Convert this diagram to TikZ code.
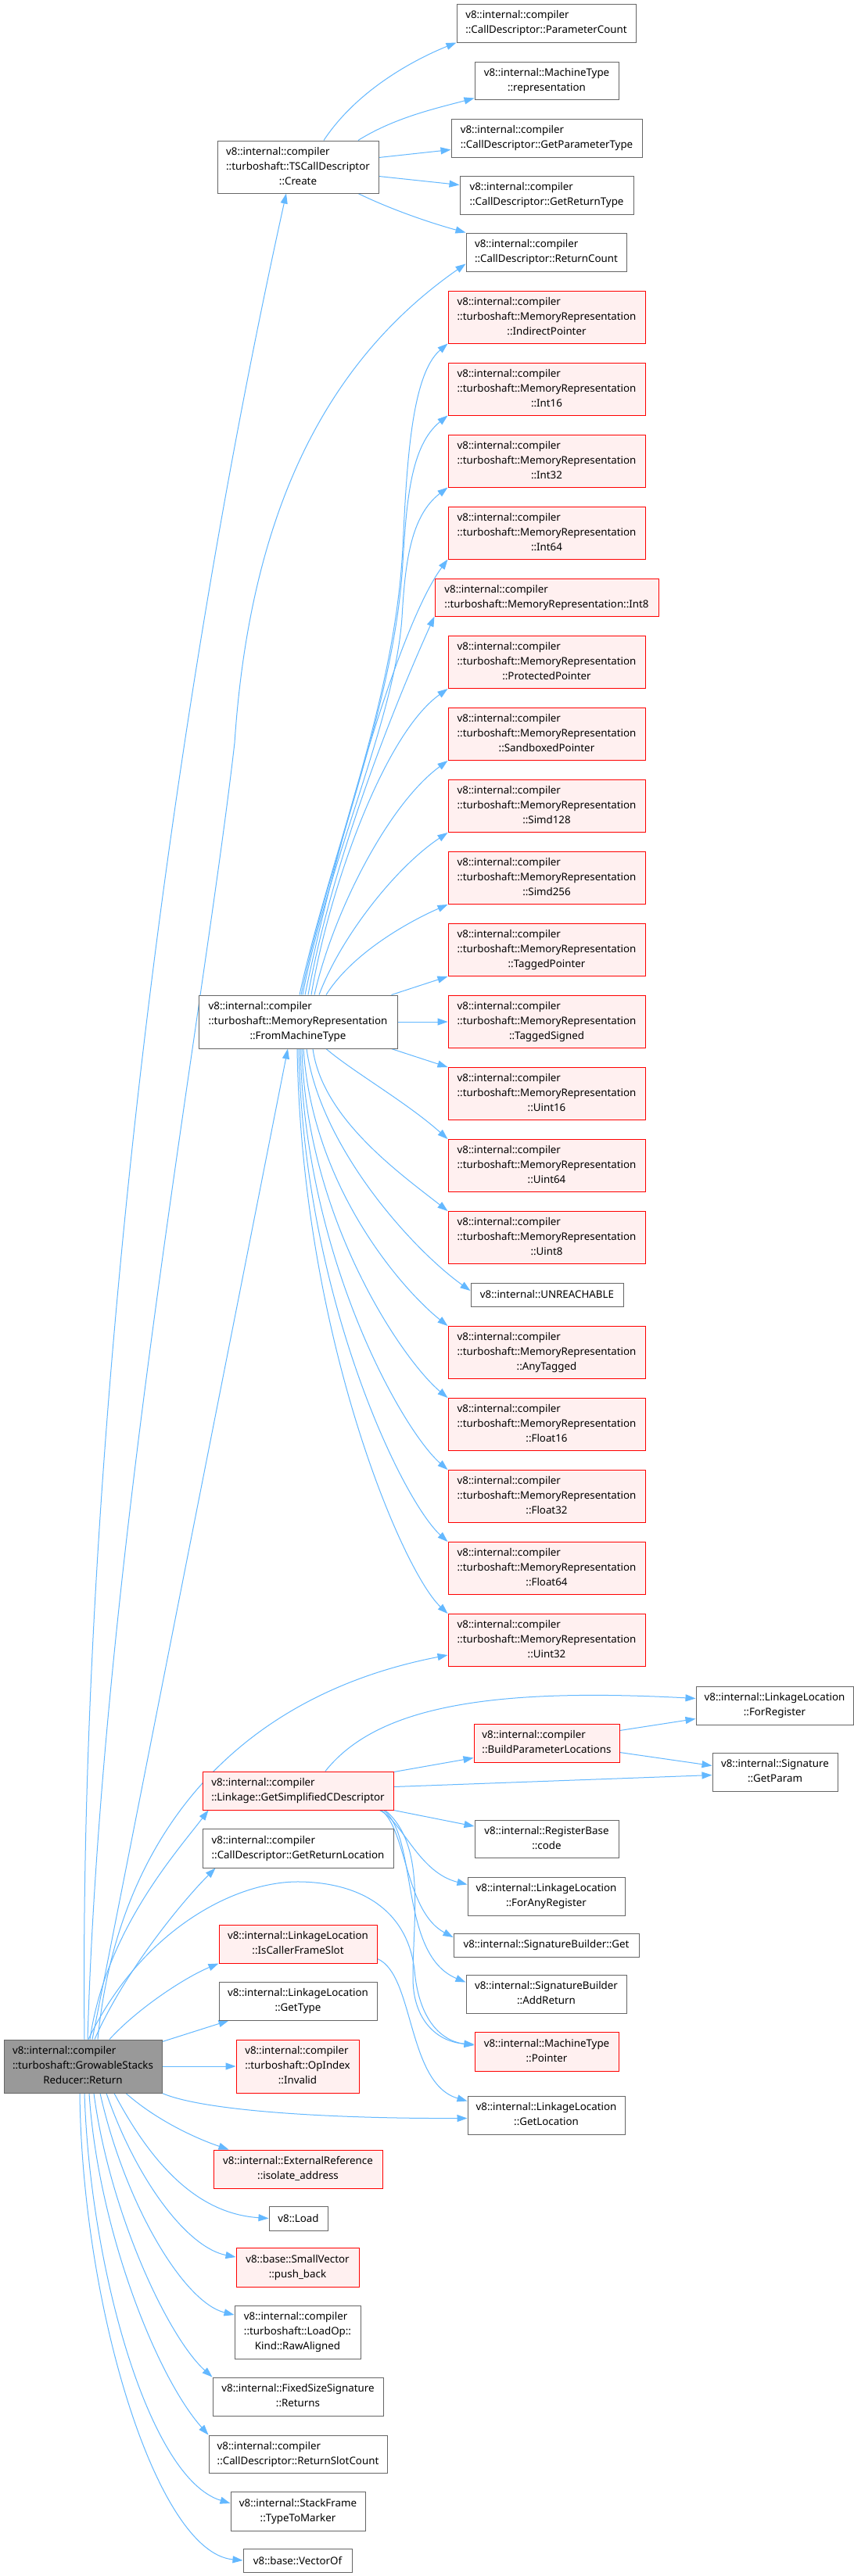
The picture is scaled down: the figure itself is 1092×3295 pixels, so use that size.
\documentclass[tikz,border=0pt]{standalone}
\usepackage{fontspec}
\setmainfont{Noto Sans}
\usetikzlibrary{arrows.meta,calc}
\definecolor{nodegray}{HTML}{666666}
\definecolor{redfill}{HTML}{FFF0F0}
\definecolor{rootgray}{HTML}{999999}
\definecolor{edgeblue}{HTML}{63B8FF}
\newcommand{\twol}[2]{\begin{tabular}{@{}l@{}}#1\\\multicolumn{1}{@{}c@{}}{#2}\end{tabular}}
\newcommand{\threel}[3]{\begin{tabular}{@{}l@{}}#1\\#2\\\multicolumn{1}{@{}c@{}}{#3}\end{tabular}}
\pgfdeclarelayer{bg}
\pgfdeclarelayer{paper}
\pgfsetlayers{paper,bg,main}
\begin{document}
\begin{tikzpicture}[x=1pt,y=-1pt,
 nd/.style={draw=nodegray, fill=white, line width=1pt, inner sep=0pt, font=\fontsize{13.33pt}{19pt}\selectfont, text=black},
 rd/.style={nd, draw=red, fill=redfill},
 rt/.style={nd, fill=rootgray},
 wh/.style 2 args={minimum width=#1pt, minimum height=#2pt},
 edge/.style={draw=edgeblue, line width=1pt, -{Triangle[length=13pt,width=9pt]}},
]
\begin{pgfonlayer}{paper}
\fill[white] (0,0) rectangle (1092,3295);
\end{pgfonlayer}
\useasboundingbox (0,0) rectangle (1092,3295);

% right column top
\node[nd,wh={229}{49}] (PC) at (698.5,29.5) {\twol{v8::internal::compiler}{::CallDescriptor::ParameterCount}};
\node[nd,wh={184}{48}] (Rep) at (699,103) {\twol{v8::internal::MachineType}{::representation}};
\node[nd,wh={244}{49}] (GPT) at (699,176.5) {\twol{v8::internal::compiler}{::CallDescriptor::GetParameterType}};
\node[nd,wh={222}{49}] (GRT) at (699,249.5) {\twol{v8::internal::compiler}{::CallDescriptor::GetReturnType}};
\node[nd,wh={205}{49}] (RC) at (698.5,322.5) {\twol{v8::internal::compiler}{::CallDescriptor::ReturnCount}};
\node[nd,wh={206}{67}] (Create) at (381,213.5) {\threel{v8::internal::compiler}{::turboshaft::TSCallDescriptor}{::Create}};

% memory representations
\node[rd,wh={252}{67}] (mIP) at (699,405.5) {\threel{v8::internal::compiler}{::turboshaft::MemoryRepresentation}{::IndirectPointer}};
\node[rd,wh={252}{67}] (mI16) at (699,497.5) {\threel{v8::internal::compiler}{::turboshaft::MemoryRepresentation}{::Int16}};
\node[rd,wh={252}{67}] (mI32) at (699,589.5) {\threel{v8::internal::compiler}{::turboshaft::MemoryRepresentation}{::Int32}};
\node[rd,wh={252}{67}] (mI64) at (699,681.5) {\threel{v8::internal::compiler}{::turboshaft::MemoryRepresentation}{::Int64}};
\node[rd,wh={286}{48}] (mI8) at (699,764) {\twol{v8::internal::compiler}{::turboshaft::MemoryRepresentation::Int8}};
\node[rd,wh={252}{67}] (mPP) at (699,847) {\threel{v8::internal::compiler}{::turboshaft::MemoryRepresentation}{::ProtectedPointer}};
\node[rd,wh={252}{67}] (mSP) at (699,939) {\threel{v8::internal::compiler}{::turboshaft::MemoryRepresentation}{::SandboxedPointer}};
\node[rd,wh={252}{67}] (mS128) at (699,1031) {\threel{v8::internal::compiler}{::turboshaft::MemoryRepresentation}{::Simd128}};
\node[rd,wh={252}{67}] (mS256) at (699,1123) {\threel{v8::internal::compiler}{::turboshaft::MemoryRepresentation}{::Simd256}};
\node[rd,wh={252}{67}] (mTP) at (699,1215) {\threel{v8::internal::compiler}{::turboshaft::MemoryRepresentation}{::TaggedPointer}};
\node[rd,wh={252}{67}] (mTS) at (699,1307) {\threel{v8::internal::compiler}{::turboshaft::MemoryRepresentation}{::TaggedSigned}};
\node[rd,wh={252}{67}] (mU16) at (699,1399) {\threel{v8::internal::compiler}{::turboshaft::MemoryRepresentation}{::Uint16}};
\node[rd,wh={252}{67}] (mU64) at (699,1491) {\threel{v8::internal::compiler}{::turboshaft::MemoryRepresentation}{::Uint64}};
\node[rd,wh={252}{67}] (mU8) at (699,1583) {\threel{v8::internal::compiler}{::turboshaft::MemoryRepresentation}{::Uint8}};
\node[nd,wh={195}{30}] (UNR) at (699.5,1656) {v8::internal::UNREACHABLE};
\node[rd,wh={252}{67}] (mAT) at (699,1730) {\threel{v8::internal::compiler}{::turboshaft::MemoryRepresentation}{::AnyTagged}};
\node[rd,wh={252}{67}] (mF16) at (699,1822) {\threel{v8::internal::compiler}{::turboshaft::MemoryRepresentation}{::Float16}};
\node[rd,wh={252}{67}] (mF32) at (699,1914) {\threel{v8::internal::compiler}{::turboshaft::MemoryRepresentation}{::Float32}};
\node[rd,wh={252}{67}] (mF64) at (699,2006) {\threel{v8::internal::compiler}{::turboshaft::MemoryRepresentation}{::Float64}};
\node[rd,wh={252}{67}] (mU32) at (699,2098) {\threel{v8::internal::compiler}{::turboshaft::MemoryRepresentation}{::Uint32}};
\node[nd,wh={254}{68}] (FMT) at (381,1307) {\threel{v8::internal::compiler}{::turboshaft::MemoryRepresentation}{::FromMachineType}};

% lower part
\node[nd,wh={201}{49}] (FR) at (990.5,2181.5) {\twol{v8::internal::LinkageLocation}{::ForRegister}};
\node[rd,wh={186}{49}] (BPL) at (699,2229.5) {\twol{v8::internal::compiler}{::BuildParameterLocations}};
\node[nd,wh={160}{49}] (GP) at (991,2266.5) {\twol{v8::internal::Signature}{::GetParam}};
\node[rd,wh={244}{49}] (GSC) at (381,2290.5) {\twol{v8::internal::compiler}{::Linkage::GetSimplifiedCDescriptor}};
\node[nd,wh={184}{48}] (RB) at (699,2352) {\twol{v8::internal::RegisterBase}{::code}};
\node[nd,wh={244}{50}] (GRL) at (381,2364) {\twol{v8::internal::compiler}{::CallDescriptor::GetReturnLocation}};
\node[nd,wh={201}{49}] (FAR) at (698.5,2425.5) {\twol{v8::internal::LinkageLocation}{::ForAnyRegister}};
\node[rd,wh={202}{49}] (ICFS) at (381,2486.5) {\twol{v8::internal::LinkageLocation}{::IsCallerFrameSlot}};
\node[nd,wh={237}{30}] (SBG) at (698.5,2488) {v8::internal::SignatureBuilder::Get};
\node[nd,wh={205}{49}] (AR) at (698.5,2550.5) {\twol{v8::internal::SignatureBuilder}{::AddReturn}};
\node[nd,wh={202}{49}] (GT) at (381,2559.5) {\twol{v8::internal::LinkageLocation}{::GetType}};
\node[rd,wh={184}{50}] (Ptr) at (699,2624) {\twol{v8::internal::MachineType}{::Pointer}};
\node[rt,wh={202}{68}] (Ret) at (106,2643) {\threel{v8::internal::compiler}{::turboshaft::GrowableStacks}{Reducer::Return}};
\node[rd,wh={157}{68}] (Inv) at (380.5,2643) {\threel{v8::internal::compiler}{::turboshaft::OpIndex}{::Invalid}};
\node[nd,wh={201}{49}] (GL) at (698.5,2705.5) {\twol{v8::internal::LinkageLocation}{::GetLocation}};
\node[rd,wh={216}{49}] (Iso) at (381,2774.5) {\twol{v8::internal::ExternalReference}{::isolate\_address}};
\node[nd,wh={75}{31}] (Load) at (381.5,2837.5) {v8::Load};
\node[rd,wh={157}{50}] (PB) at (380.5,2900) {\twol{v8::base::SmallVector}{::push\_back}};
\node[nd,wh={161}{68}] (RA) at (380.5,2983) {\threel{v8::internal::compiler}{::turboshaft::LoadOp::}{Kind::RawAligned}};
\node[nd,wh={218}{49}] (Rts) at (381,3065.5) {\twol{v8::internal::FixedSizeSignature}{::Returns}};
\node[nd,wh={228}{48}] (RSC) at (381,3139) {\twol{v8::internal::compiler}{::CallDescriptor::ReturnSlotCount}};
\node[nd,wh={172}{50}] (TTM) at (381,3212) {\twol{v8::internal::StackFrame}{::TypeToMarker}};
\node[nd,wh={139}{30}] (VO) at (380.5,3275) {v8::base::VectorOf};

\begin{pgfonlayer}{bg}
% Create
\draw[edge] ($(Create.north)+(33,0)$) .. controls (460,110) and (540,72) .. (PC.south west);
\draw[edge] ($(Create.north)+(77,0)$) .. controls (505,150) and (560,138) .. ($(Rep.south west)+(0,-2)$);
\draw[edge] ($(Create.east)+(0,-12)$) -- ($(GPT.west)+(0,15)$);
\draw[edge] ($(Create.east)+(0,12)$) -- ($(GRT.west)+(0,-13)$);
\draw[edge] ($(Create.south)+(77,0)$) .. controls (500,268) and (550,285) .. (RC.north west);

% Return long edges
\draw[edge] ($(Ret.north)+(2,0)$) .. controls (100,1900) and (200,1000) .. ($(Create.south)+(-15,0)$);
\draw[edge] ($(Ret.north)+(6,0)$) .. controls (130,2000) and (260,1300) .. (300,950) .. controls (320,650) and (420,460) .. ($(RC.west)+(0,15)$);
\draw[edge] ($(Ret.north)+(12,0)$) -- ($(FMT.south)+(-13,0)$);
\draw[edge] ($(Ret.north)+(19,0)$) .. controls (150,2350) and (300,2170) .. ($(mU32.west)+(0,19)$);
\draw[edge] ($(Ret.north)+(9,0)$) .. controls (135,2470) and (225,2370) .. ($(GSC.south west)+(8,0)$);
\draw[edge] ($(Ret.north)+(15,0)$) .. controls (160,2520) and (235,2430) .. ($(GRL.south west)+(17,0)$);
\draw[edge] ($(Ret.north)+(7,0)$) .. controls (180,2470) and (300,2405) .. (385,2407) .. controls (470,2409) and (522,2450) .. (530,2520) .. controls (535,2578) and (560,2610) .. ($(Ptr.west)+(0,-8)$);
\draw[edge] ($(Ret.north)+(34,0)$) .. controls (175,2570) and (235,2530) .. (ICFS.south west);
\draw[edge] ($(Ret.north east)+(0,3)$) -- ($(GT.south west)+(13,0)$);
\draw[edge] (Ret.east) -- (Inv.west);
\draw[edge] (Ret.south east) .. controls (260,2700) and (420,2710) .. ($(GL.west)+(0,4)$);
\draw[edge] ($(Ret.south)+(55,0)$) .. controls (200,2712) and (250,2735) .. ($(Iso.north west)+(20,0)$);
\draw[edge] ($(Ret.south)+(40,0)$) .. controls (200,2780) and (260,2832) .. (Load.west);
\draw[edge] ($(Ret.south)+(30,0)$) .. controls (175,2790) and (240,2875) .. ($(PB.west)+(0,-13)$);
\draw[edge] ($(Ret.south)+(22,0)$) .. controls (160,2820) and (235,2945) .. ($(RA.west)+(0,-22)$);
\draw[edge] ($(Ret.south)+(14,0)$) .. controls (140,2830) and (215,2990) .. (Rts.north west);
\draw[edge] ($(Ret.south)+(8,0)$) .. controls (125,2850) and (200,3040) .. (RSC.north west);
\draw[edge] ($(Ret.south)+(2,0)$) .. controls (115,2900) and (190,3170) .. ($(TTM.west)+(0,-10)$);
\draw[edge] ($(Ret.south)+(-4,0)$) .. controls (105,2950) and (200,3265) .. (VO.west);

% GetSimplifiedCDescriptor
\draw[edge] ($(GSC.north)+(35,0)$) .. controls (480,2185) and (620,2158) .. ($(FR.west)+(0,-9)$);
\draw[edge] ($(GSC.north east)+(0,1)$) -- ($(BPL.west)+(0,19)$);
\draw[edge] ($(GSC.east)+(0,-5)$) -- ($(GP.west)+(0,4)$);
\draw[edge] (GSC.south east) -- ($(RB.west)+(0,-16)$);
\draw[edge] ($(GSC.south east)+(-18,0)$) .. controls (515,2330) and (535,2395) .. ($(FAR.west)+(0,-15)$);
\draw[edge] ($(GSC.south east)+(-16,0)$) .. controls (520,2340) and (518,2445) .. ($(SBG.west)+(0,-10)$);
\draw[edge] ($(GSC.south east)+(-13,0)$) .. controls (535,2350) and (510,2500) .. ($(AR.west)+(0,-15)$);
\draw[edge] ($(GSC.south east)+(-11,0)$) .. controls (545,2360) and (528,2450) .. (528,2530) .. controls (528,2585) and (560,2612) .. ($(Ptr.west)+(0,-9)$);
\draw[edge] ($(BPL.east)+(0,-16)$) -- ($(FR.west)+(0,17)$);
\draw[edge] ($(BPL.east)+(0,12)$) -- ($(GP.west)+(0,-8)$);
\draw[edge] ($(ICFS.east)+(0,19)$) .. controls (530,2525) and (520,2665) .. ($(GL.west)+(0,-18)$);

% FromMachineType upward
\draw[edge] ($(FMT.north)+(2,0)$) .. controls (420,1100) and (505,900) .. (515,700) .. controls (520,600) and (525,480) .. (mIP.south west);
\draw[edge] ($(FMT.north)+(4,0)$) .. controls (420,1100) and (505,900) .. (515,720) .. controls (520,640) and (525,570) .. (mI16.south west);
\draw[edge] ($(FMT.north)+(6,0)$) .. controls (420,1100) and (505,920) .. (514,790) .. controls (518,720) and (525,660) .. (mI32.south west);
\draw[edge] ($(FMT.north)+(9,0)$) .. controls (430,1080) and (510,800) .. (mI64.south west);
\draw[edge] ($(FMT.north)+(13,0)$) .. controls (425,1100) and (505,900) .. (mI8.south west);
\draw[edge] ($(FMT.north)+(17,0)$) .. controls (420,1140) and (490,940) .. (mPP.south west);
\draw[edge] ($(FMT.north)+(21,0)$) .. controls (425,1170) and (495,1030) .. (mSP.south west);
\draw[edge] ($(FMT.north)+(27,0)$) .. controls (435,1200) and (505,1110) .. (mS128.south west);
\draw[edge] ($(FMT.north)+(36,0)$) .. controls (450,1220) and (520,1180) .. (mS256.south west);
\draw[edge] ($(FMT.north east)+(-8,0)$) -- (mTP.south west);
\draw[edge] (FMT.east) -- (mTS.west);
% FromMachineType downward
\draw[edge] ($(FMT.south east)+(-8,0)$) -- (mU16.north west);
\draw[edge] ($(FMT.south)+(36,0)$) .. controls (450,1370) and (520,1410) .. (mU64.north west);
\draw[edge] ($(FMT.south)+(19,0)$) .. controls (412,1430) and (510,1500) .. (mU8.north west);
\draw[edge] ($(FMT.south)+(11,0)$) .. controls (410,1470) and (530,1600) .. ($(UNR.west)+(0,-5)$);
\draw[edge] ($(FMT.south)+(7,0)$) .. controls (400,1520) and (515,1650) .. (mAT.north west);
\draw[edge] ($(FMT.south)+(5,0)$) .. controls (392,1560) and (515,1740) .. (mF16.north west);
\draw[edge] ($(FMT.south)+(3,0)$) .. controls (390,1610) and (515,1830) .. (mF32.north west);
\draw[edge] ($(FMT.south)+(1,0)$) .. controls (388,1660) and (515,1920) .. (mF64.north west);
\draw[edge] ($(FMT.south)+(-1,0)$) .. controls (386,1710) and (515,2010) .. (mU32.north west);
\end{pgfonlayer}
\end{tikzpicture}
\end{document}
